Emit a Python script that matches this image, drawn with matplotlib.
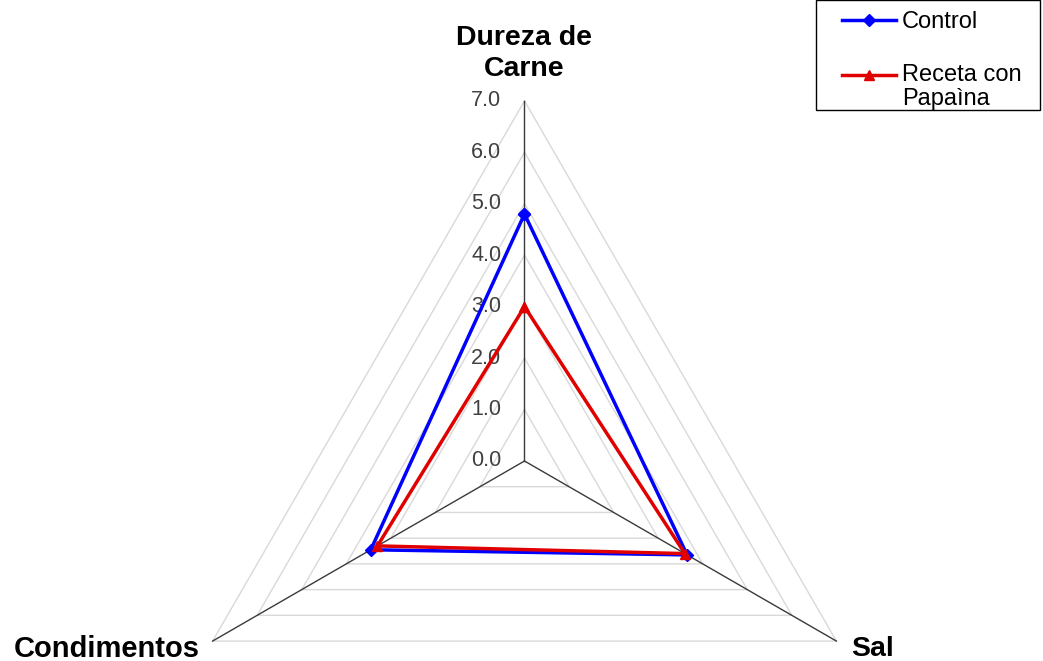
import numpy as np
import matplotlib
matplotlib.use("Agg")
import matplotlib.pyplot as plt
from matplotlib.legend_handler import HandlerLine2D
from matplotlib.patches import Rectangle

plt.rcParams['font.family'] = ['Liberation Sans', 'DejaVu Sans']

# Data
categories = ["Dureza de\nCarne", "Sal", "Condimentos"]
control = [4.8, 3.65, 3.45]
papaina = [3.0, 3.6, 3.3]
series_names = ["Control", "Receta con\nPapaìna"]
tick_values = [0, 1, 2, 3, 4, 5, 6, 7]
tick_labels = ["0.0", "1.0", "2.0", "3.0", "4.0", "5.0", "6.0", "7.0"]

W, H = 1043, 661
cx, cy, scale = 524.5, 461.0, 51.45  # pixel centre and pixels per unit

fig = plt.figure(figsize=(W / 100, H / 100), dpi=100)
ax = fig.add_axes([0, 0, 1, 1])
ax.set_xlim(-cx / scale, (W - cx) / scale)
ax.set_ylim(-(H - cy) / scale, cy / scale)
ax.axis("off")

n = len(categories)
angles = np.pi / 2 - np.arange(n) * 2 * np.pi / n  # clockwise from top


def to_xy(vals):
    vals = np.asarray(vals, dtype=float)
    return vals * np.cos(angles), vals * np.sin(angles)


# Polygon gridlines
rmax = tick_values[-1]
for t in tick_values[1:]:
    gx, gy = to_xy([t] * n)
    ax.plot(np.append(gx, gx[0]), np.append(gy, gy[0]), color="#d9d9d9",
            lw=1.0, zorder=1)

# Spokes
for a in angles:
    ax.plot([0, rmax * np.cos(a)], [0, rmax * np.sin(a)], color="#3a3a3a",
            lw=1.0, zorder=2)

# Radial tick labels
for t, lab in zip(tick_values, tick_labels):
    ax.text(-23 / scale, t, lab, ha="right", va="center", fontsize=15.5,
            color="#404040", zorder=3)

# Series
x1, y1 = to_xy(control)
ax.plot(np.append(x1, x1[0]), np.append(y1, y1[0]), color="#0000ff", lw=2.5,
        marker="D", ms=6.5, zorder=4, label=series_names[0])
x2, y2 = to_xy(papaina)
ax.plot(np.append(x2, x2[0]), np.append(y2, y2[0]), color="#e00000", lw=2.5,
        marker="^", ms=7.5, zorder=5, label=series_names[1])

# Category labels
lab_kw = dict(fontsize=20.5, fontweight="bold", color="black")
ax.text(0, (cy - 82) / scale, categories[0], ha="center", va="bottom",
        linespacing=1.25, **lab_kw)
ax.text(rmax * np.cos(angles[1]) + 0.28, rmax * np.sin(angles[1]) - 0.15,
        categories[1], ha="left", va="center", **lab_kw)
ax.text(rmax * np.cos(angles[2]) - 0.25, rmax * np.sin(angles[2]) - 0.15,
        categories[2], ha="right", va="center",
        **{**lab_kw, "fontsize": 21})


class FirstLineHandler(HandlerLine2D):
    """Line handle aligned with the first line of a wrapped label."""

    def __init__(self, lift=0.0, **kw):
        super().__init__(**kw)
        self.lift = lift

    def create_artists(self, legend, orig_handle, xdescent, ydescent,
                       width, height, fontsize, trans):
        arts = super().create_artists(legend, orig_handle, xdescent, ydescent,
                                      width, height, fontsize, trans)
        for a in arts:
            a.set_ydata(np.asarray(a.get_ydata()) + self.lift)
        return arts


h1, h2 = ax.get_lines()[-2:]
leg = ax.legend([h1, h2], series_names, loc="upper left",
                bbox_to_anchor=(842 / W, 1.0 - 11 / H),
                frameon=False, fontsize=17, handlelength=2.3,
                labelspacing=1.3, borderpad=0.0, handletextpad=0.25,
                borderaxespad=0.0,
                handler_map={h2: FirstLineHandler(lift=9.0)})
for t in leg.get_texts():
    t.set_linespacing(1.15)

# Legend frame
ax.add_patch(Rectangle((816 / W, 1 - 110 / H), (1040 - 816) / W, 110 / H,
                       transform=ax.transAxes, fill=False, edgecolor="black",
                       lw=1.0, zorder=6, clip_on=False))

fig.savefig("out.png", dpi=100)
